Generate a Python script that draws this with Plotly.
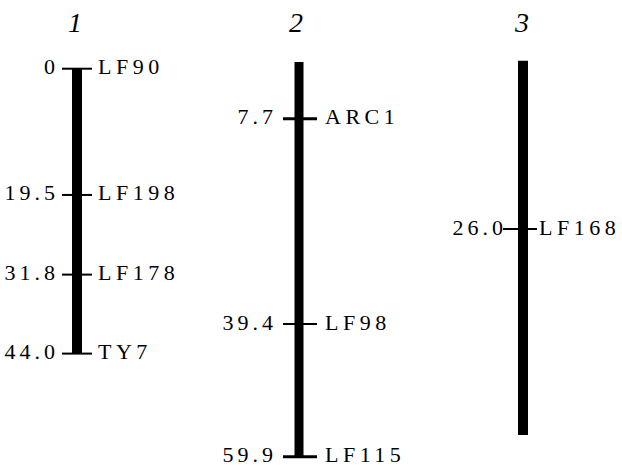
import plotly.graph_objects as go

chrom_names = ["1", "2", "3"]

chr1_pos = [0.0, 19.5, 31.8, 44.0]
chr1_pos_text = ["0", "19.5", "31.8", "44.0"]
chr1_markers = ["LF90", "LF198", "LF178", "TY7"]

chr2_pos = [7.7, 39.4, 59.9]
chr2_pos_text = ["7.7", "39.4", "59.9"]
chr2_markers = ["ARC1", "LF98", "LF115"]

chr3_pos = [26.0]
chr3_pos_text = ["26.0"]
chr3_markers = ["LF168"]

chr_start = [0.0, -1.1, 0.0]
chr_end = [44.0, 59.9, 57.8]

# ---- layout constants (pixels) ----
W, H = 622, 468
SCALE = 6.475                 # px per cM
zero_px = [68.7, 69.0, 60.7]  # pixel row of 0 cM for each chromosome
bar_x = [77, 299, 523]
bar_w = [10, 9, 10]
tick_x0 = [62, 283, 503]
tick_x1 = [92, 317, 537]
tick_w = [[2, 2, 2, 2], [3, 2, 3], [2]]
num_right_edge = [55, 273, 503]
name_left_edge = [98, 325, 539]
title_x = [75, 296, 521]
S_NUM, S_NAME = 4.0, 4.5      # letter spacing (px)

positions = [chr1_pos, chr2_pos, chr3_pos]
pos_texts = [chr1_pos_text, chr2_pos_text, chr3_pos_text]
markers = [chr1_markers, chr2_markers, chr3_markers]
yrefs = ["y", "y2", "y3"]

FONT = "Liberation Serif"
FS = 22

fig = go.Figure()
shapes = []
for i in range(3):
    yr = yrefs[i]
    # chromosome bar
    shapes.append(dict(type="rect", xref="x", yref=yr,
                       x0=bar_x[i] - bar_w[i] / 2, x1=bar_x[i] + bar_w[i] / 2,
                       y0=chr_start[i], y1=chr_end[i],
                       fillcolor="black", line=dict(width=0)))
    for j, p in enumerate(positions[i]):
        shapes.append(dict(type="line", xref="x", yref=yr,
                           x0=tick_x0[i], x1=tick_x1[i],
                           y0=p, y1=p, line=dict(color="black", width=tick_w[i][j])))
    fig.add_trace(go.Scatter(x=[num_right_edge[i] + S_NUM] * len(positions[i]),
                             y=positions[i], text=pos_texts[i], mode="text",
                             textposition="middle left",
                             textfont=dict(family=FONT, size=FS, color="black"),
                             yaxis=yr, hoverinfo="skip", showlegend=False))
    fig.add_trace(go.Scatter(x=[name_left_edge[i]] * len(positions[i]),
                             y=positions[i], text=markers[i], mode="text",
                             textposition="middle right",
                             textfont=dict(family=FONT, size=FS, color="black"),
                             yaxis=yr, hoverinfo="skip", showlegend=False))

annotations = []
for i in range(3):
    annotations.append(dict(x=title_x[i], xref="x", y=1 - 22 / H, yref="paper",
                            text="<i>" + chrom_names[i] + "</i>", showarrow=False,
                            font=dict(family=FONT, size=28, color="black"),
                            xanchor="center", yanchor="middle"))

def yrange(z):
    return [(H - z) / SCALE, -z / SCALE]

hidden = dict(visible=False, showgrid=False, zeroline=False, fixedrange=True)
fig.update_layout(
    width=W, height=H,
    margin=dict(l=0, r=0, t=0, b=0),
    paper_bgcolor="white", plot_bgcolor="white",
    font=dict(family=FONT),
    xaxis=dict(range=[0, W], **hidden),
    yaxis=dict(range=yrange(zero_px[0]), **hidden),
    yaxis2=dict(range=yrange(zero_px[1]), overlaying="y", **hidden),
    yaxis3=dict(range=yrange(zero_px[2]), overlaying="y", **hidden),
    shapes=shapes, annotations=annotations, showlegend=False,
)

post = ("document.body.style.margin='0';"
        "document.querySelectorAll('.textpoint text').forEach(function(t){"
        "var a=t.getAttribute('text-anchor');"
        "t.style.letterSpacing=(a==='end'?'%spx':'%spx');});" % (S_NUM, S_NAME))
fig.write_html("out.html", post_script=post, config={"displayModeBar": False})
